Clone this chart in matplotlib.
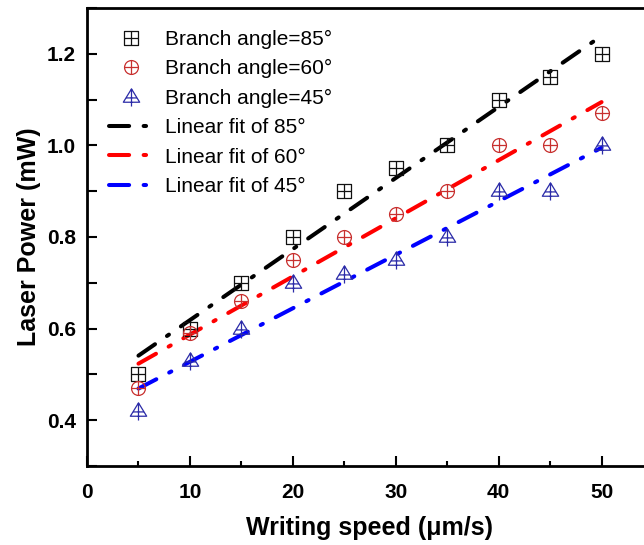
import numpy as np
import matplotlib.pyplot as plt
from matplotlib.path import Path
from matplotlib.ticker import MultipleLocator

plt.rcParams['font.family'] = ['Liberation Sans', 'DejaVu Sans']

speed = [5, 10, 15, 20, 25, 30, 35, 40, 45, 50]
power_85 = [0.50, 0.60, 0.70, 0.80, 0.90, 0.95, 1.00, 1.10, 1.15, 1.20]
power_60 = [0.47, 0.59, 0.66, 0.75, 0.80, 0.85, 0.90, 1.00, 1.00, 1.07]
power_45 = [0.42, 0.53, 0.60, 0.70, 0.72, 0.75, 0.80, 0.90, 0.90, 1.00]
angles = ["85", "60", "45"]

M, L, C = Path.MOVETO, Path.LINETO, Path.CLOSEPOLY

# square with a cross inside
sq_box = Path([(-1, -1), (1, -1), (1, 1), (-1, 1), (-1, -1)], [M, L, L, L, C])
sq_plus = Path([(0, -1), (0, 1), (-1, 0), (1, 0)], [M, L, M, L])
m_square = Path.make_compound_path(sq_box, sq_plus)

# circle with a cross inside
m_circle = Path.make_compound_path(Path.unit_circle(), sq_plus)

# triangle with a cross, vertical stroke poking out below
tri = Path([(0, 1), (-0.95, -0.55), (0.95, -0.55), (0, 1)], [M, L, L, C])
tri_plus = Path([(0, 1), (0, -1.05), (-0.6, -0.05), (0.6, -0.05)], [M, L, M, L])
m_tri = Path.make_compound_path(tri, tri_plus)

fig = plt.figure(figsize=(6.44, 5.45), dpi=100)
ax = fig.add_axes([87 / 644, 79 / 545, 566 / 644, 458 / 545])

sets = [
    (power_85, m_square, "#111111", "black", 9.5),
    (power_60, m_circle, "#c8302f", "#ff0000", 10),
    (power_45, m_tri, "#2b2ba8", "#0000ff", 13),
]

dash = (0, (5, 3.6, 0.6, 3.6))
marker_handles = []
line_handles = []
for (vals, mk, mcol, lcol, ms), ang in zip(sets, angles):
    h, = ax.plot(speed, vals, linestyle="none", marker=mk, markersize=ms,
                 markerfacecolor="none", markeredgecolor=mcol,
                 markeredgewidth=0.9, label=f"Branch angle={ang}\u00b0", zorder=3)
    marker_handles.append(h)
for (vals, mk, mcol, lcol, ms), ang in zip(sets, angles):
    k, b = np.polyfit(speed, vals, 1)
    xs = np.array([speed[0], speed[-1]])
    lh, = ax.plot(xs, k * xs + b, color=lcol, linewidth=2.9, linestyle=dash,
                  dash_capstyle="round", label=f"Linear fit of {ang}\u00b0", zorder=2)
    line_handles.append(lh)

ax.set_xlim(0, 55)
ax.set_ylim(0.3, 1.3)
ax.xaxis.set_major_locator(MultipleLocator(10))
ax.xaxis.set_minor_locator(MultipleLocator(5))
ax.yaxis.set_minor_locator(MultipleLocator(0.1))
ax.set_yticks([0.4, 0.6, 0.8, 1.0, 1.2])
ax.tick_params(axis="both", which="major", direction="in", width=1.5,
               labelsize=15, length=7)
ax.tick_params(axis="x", which="major", pad=12)
ax.tick_params(axis="y", which="major", pad=8)
ax.tick_params(axis="x", which="minor", direction="in", length=3.5, width=1.5)
ax.tick_params(axis="y", which="minor", direction="in", length=7, width=1.5)
ax.tick_params(right=False, top=False)
for lab in ax.get_xticklabels() + ax.get_yticklabels():
    lab.set_fontweight("bold")
for sp in ax.spines.values():
    sp.set_linewidth(2)

ax.set_xlabel("Writing speed (\u03bcm/s)", fontsize=18, fontweight="bold", labelpad=10)
ax.set_ylabel("Laser Power (mW)", fontsize=18, fontweight="bold", labelpad=4)

ax.legend(handles=marker_handles + line_handles, loc="upper left",
          bbox_to_anchor=(0.0, 1.0), frameon=False, fontsize=15,
          handlelength=2.1, handletextpad=0.6, labelspacing=0.5,
          borderaxespad=0.65)

fig.savefig("out.png", dpi=100)
